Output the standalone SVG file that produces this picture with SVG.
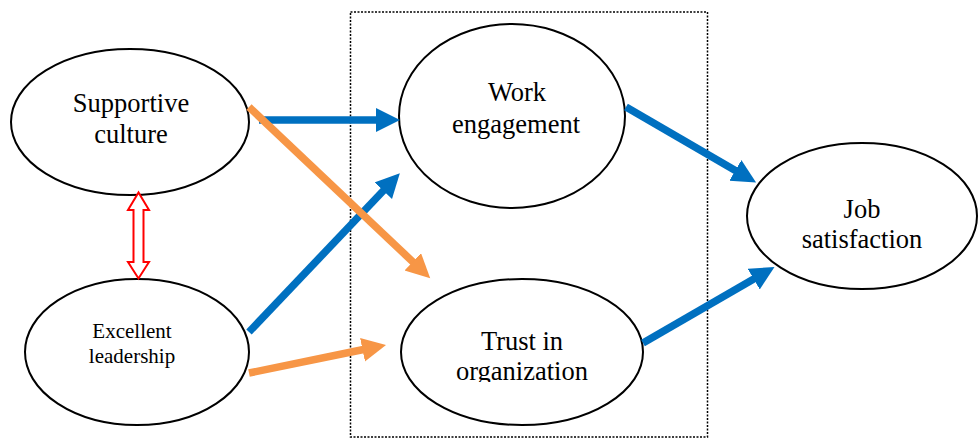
<svg xmlns="http://www.w3.org/2000/svg" width="978" height="439" viewBox="0 0 978 439">
<style>
.node{fill:#fff;stroke:#000;stroke-width:2}
text{font-family:'Liberation Serif','Times New Roman',serif;font-size:26.5px;fill:#000;text-anchor:middle}
.sm{font-size:21px}
.blue{stroke:#0070C0;stroke-width:7.5;fill:none}
.orange{stroke:#F79646;stroke-width:7.5;fill:none}
</style>
<defs>
<marker id="hb" markerUnits="userSpaceOnUse" markerWidth="26" markerHeight="26" refX="1" refY="12" orient="auto" viewBox="0 0 26 26"><path d="M0,0 L24,12 L0,24 z" fill="#0070C0"/></marker>
<marker id="ho" markerUnits="userSpaceOnUse" markerWidth="26" markerHeight="26" refX="1" refY="12" orient="auto" viewBox="0 0 26 26"><path d="M0,0 L24,12 L0,24 z" fill="#F79646"/></marker>
<clipPath id="trustclip"><rect x="400" y="270" width="250" height="112"/></clipPath>
</defs>
<rect x="0" y="0" width="978" height="439" fill="#fff"/>
<rect id="mediator-box" x="350.5" y="12" width="357" height="425" fill="none" stroke="#000" stroke-width="1.5" stroke-dasharray="2,1.5"/>
<g id="supportive-culture">
<ellipse class="node" cx="130" cy="122" rx="119" ry="73"/>
<text x="131" y="112">Supportive</text>
<text x="131" y="143">culture</text>
</g>
<g id="excellent-leadership">
<ellipse class="node" cx="137" cy="352" rx="112" ry="73"/>
<text class="sm" x="132" y="338">Excellent</text>
<text class="sm" x="132" y="363">leadership</text>
</g>
<g id="work-engagement">
<ellipse class="node" cx="512" cy="116" rx="113" ry="92"/>
<text x="517" y="101">Work</text>
<text x="516" y="133">engagement</text>
</g>
<g id="trust-in-organization">
<ellipse class="node" cx="522" cy="352" rx="121" ry="73"/>
<text x="522" y="350">Trust in</text>
<text x="522" y="380" clip-path="url(#trustclip)">organization</text>
</g>
<g id="job-satisfaction">
<ellipse class="node" cx="862" cy="216" rx="115" ry="73"/>
<text x="862" y="218">Job</text>
<text x="862" y="248">satisfaction</text>
</g>
<g id="connectors">
<line class="blue" x1="259" y1="120" x2="377" y2="120" marker-end="url(#hb)"/>
<line class="blue" x1="249" y1="332" x2="384" y2="190" marker-end="url(#hb)"/>
<line class="orange" x1="249" y1="107" x2="413.5" y2="262.5" marker-end="url(#ho)"/>
<line class="orange" x1="249" y1="373" x2="363.5" y2="349.5" marker-end="url(#ho)"/>
<line class="blue" x1="626" y1="107" x2="736.2" y2="171" marker-end="url(#hb)"/>
<line class="blue" x1="643" y1="343" x2="754.6" y2="278.6" marker-end="url(#hb)"/>
<polygon points="138.5,192.5 128,210 133.5,210 133.5,262 128,262 138.5,278.5 149,262 143.5,262 143.5,210 149,210" fill="#fff" stroke="#FF0000" stroke-width="2"/>
</g>
</svg>
